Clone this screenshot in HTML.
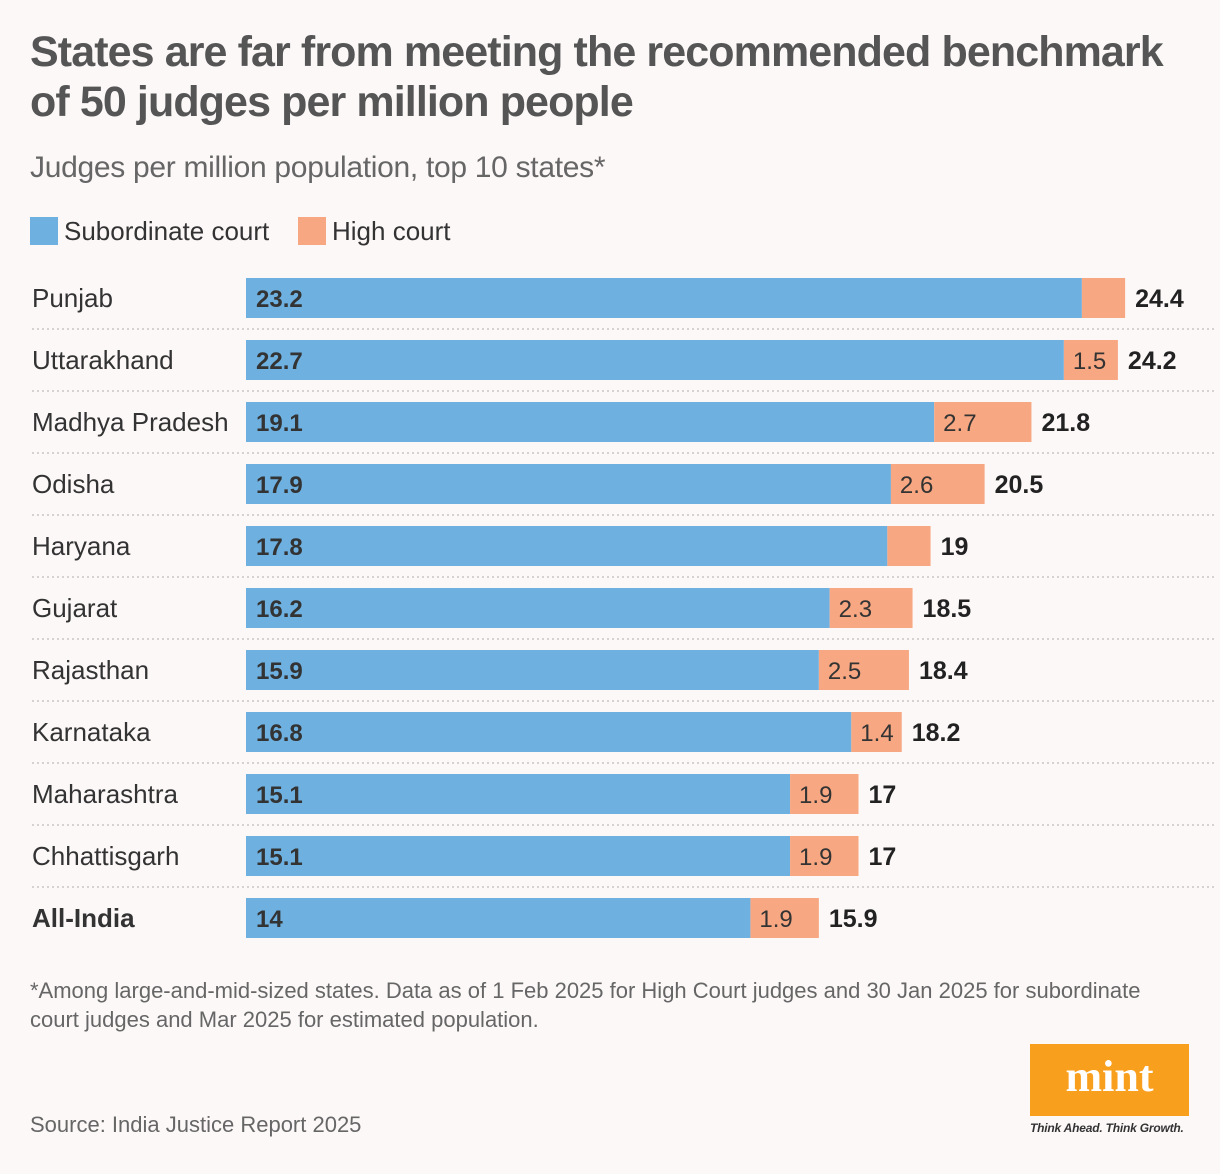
<!DOCTYPE html>
<html><head><meta charset="utf-8"><style>
body{margin:0;background:#fdf8f8;width:1220px;height:1174px;overflow:hidden;font-family:"Liberation Sans",sans-serif;color:#333}
.t{position:absolute;white-space:nowrap}
</style></head><body>
<div class="t" style="left:30px;top:27px;font-size:43px;font-weight:bold;color:#555;line-height:50px;letter-spacing:-0.9px">States are far from meeting the recommended benchmark<br>of 50 judges per million people</div>
<div class="t" style="left:30px;top:151px;font-size:30px;color:#666;letter-spacing:-0.3px">Judges per million population, top 10 states*</div>
<div class="t" style="left:30px;top:216px;font-size:26px;color:#333"><span style="display:inline-block;width:28px;height:28px;background:#6eb1e1;vertical-align:-5px;margin-right:6px"></span>Subordinate court</div>
<div class="t" style="left:298px;top:216px;font-size:26px;color:#333"><span style="display:inline-block;width:28px;height:28px;background:#f7a883;vertical-align:-5px;margin-right:6px"></span>High court</div>
<svg id="chart" width="1220" height="960" style="position:absolute;left:0;top:0"></svg>
<div class="t" style="left:30px;top:976px;font-size:22px;color:#666;line-height:29px">*Among large-and-mid-sized states. Data as of 1 Feb 2025 for High Court judges and 30 Jan 2025 for subordinate<br>court judges and Mar 2025 for estimated population.</div>
<div class="t" style="left:30px;top:1112px;font-size:22px;color:#666">Source: India Justice Report 2025</div>
<div style="position:absolute;left:1030px;top:1044px;width:159px;height:72px;background:#f89f1e;color:#fff;font-family:'Liberation Serif',serif;font-weight:bold;font-size:44px;text-align:center;line-height:66px">mint</div>
<div class="t" style="left:1030px;top:1121px;font-size:12px;font-style:italic;font-weight:bold;color:#333;letter-spacing:-0.2px">Think Ahead. Think Growth.</div>
<script>
const states=["Punjab","Uttarakhand","Madhya Pradesh","Odisha","Haryana","Gujarat","Rajasthan","Karnataka","Maharashtra","Chhattisgarh","All-India"];
const subordinate=[23.2,22.7,19.1,17.9,17.8,16.2,15.9,16.8,15.1,15.1,14];
const highCourt=[1.2,1.5,2.7,2.6,1.2,2.3,2.5,1.4,1.9,1.9,1.9];
const totals=["24.4","24.2","21.8","20.5","19","18.5","18.4","18.2","17","17","15.9"];
const svg=document.getElementById('chart');const NS='http://www.w3.org/2000/svg';
const x=v=>246+v*36.03;const y=i=>278+i*62;
function mk(t,a,txt){const e=document.createElementNS(NS,t);for(const k in a)e.setAttribute(k,a[k]);if(txt!==undefined)e.textContent=txt;svg.appendChild(e);return e;}
states.forEach((s,i)=>{
 let e;
 e=mk('text',{x:32,y:y(i)+29,'font-size':26,fill:'#333','font-weight':i==10?'bold':'normal'},s);
 
 e=mk('rect',{x:x(0),y:y(i),width:x(subordinate[i])-x(0),height:40,fill:'#6eb1e1'});
 
 e=mk('rect',{x:x(subordinate[i]),y:y(i),width:x(subordinate[i]+highCourt[i])-x(subordinate[i]),height:40,fill:'#f7a883'});
 
 e=mk('text',{x:x(0)+10,y:y(i)+29,'font-size':24,'font-weight':'bold',fill:'#333'},String(subordinate[i]));
 
 if(highCourt[i]>=1.3){e=mk('text',{x:x(subordinate[i])+9,y:y(i)+29,'font-size':24,fill:'#333'},String(highCourt[i]));
 }
 e=mk('text',{x:x(subordinate[i]+highCourt[i])+10,y:y(i)+29,'font-size':25,'font-weight':'bold',fill:'#222'},totals[i]);
 
 if(i<states.length-1){e=mk('line',{x1:32,x2:1216,y1:y(i)+51,y2:y(i)+51,stroke:'#d6d2d2','stroke-width':2,'stroke-dasharray':'2 3'});
 }
});
</script>
</body></html>
